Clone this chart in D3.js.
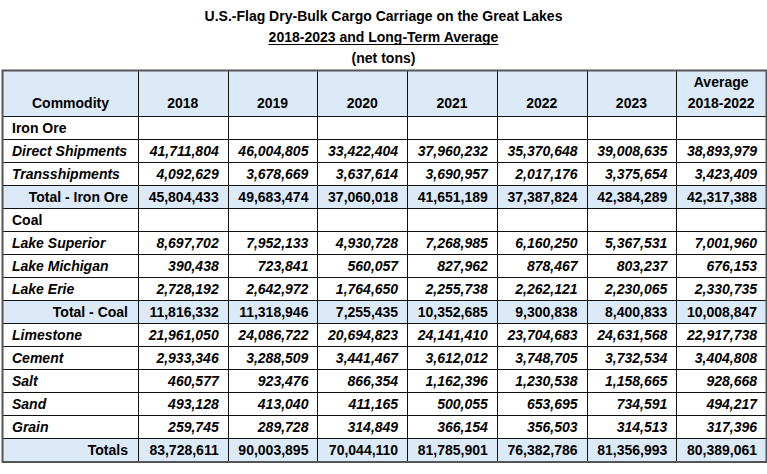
<!DOCTYPE html>
<html>
<head>
<meta charset="utf-8">
<title>U.S.-Flag Dry-Bulk Cargo Carriage on the Great Lakes</title>
<script src="https://cdn.jsdelivr.net/npm/d3@7"></script>
<style>
  body { margin: 0; background: #fff; }
  text { font-family: "Liberation Sans", Arial, sans-serif; fill: #000; }
</style>
</head>
<body>
<svg id="mainsvg" width="767" height="474"></svg>
<script>
// table data
const titleLines = ['U.S.-Flag Dry-Bulk Cargo Carriage on the Great Lakes', '2018-2023 and Long-Term Average', '(net tons)']
const columns = ['2018', '2019', '2020', '2021', '2022', '2023', 'Average 2018-2022']
const commodities = ['Iron Ore', 'Direct Shipments', 'Transshipments', 'Total - Iron Ore',
  'Coal', 'Lake Superior', 'Lake Michigan', 'Lake Erie', 'Total - Coal',
  'Limestone', 'Cement', 'Salt', 'Sand', 'Grain', 'Totals']
// group = section label, item = italic line, total = shaded row
const rowKinds = ['group', 'item', 'item', 'total', 'group', 'item', 'item', 'item', 'total',
  'item', 'item', 'item', 'item', 'item', 'total']

const v2018 = [null, 41711804, 4092629, 45804433, null, 8697702, 390438, 2728192, 11816332, 21961050, 2933346, 460577, 493128, 259745, 83728611]
const v2019 = [null, 46004805, 3678669, 49683474, null, 7952133, 723841, 2642972, 11318946, 24086722, 3288509, 923476, 413040, 289728, 90003895]
const v2020 = [null, 33422404, 3637614, 37060018, null, 4930728, 560057, 1764650, 7255435, 20694823, 3441467, 866354, 411165, 314849, 70044110]
const v2021 = [null, 37960232, 3690957, 41651189, null, 7268985, 827962, 2255738, 10352685, 24141410, 3612012, 1162396, 500055, 366154, 81785901]
const v2022 = [null, 35370648, 2017176, 37387824, null, 6160250, 878467, 2262121, 9300838, 23704683, 3748705, 1230538, 653695, 356503, 76382786]
const v2023 = [null, 39008635, 3375654, 42384289, null, 5367531, 803237, 2230065, 8400833, 24631568, 3732534, 1158665, 734591, 314513, 81356993]
const vAvg = [null, 38893979, 3423409, 42317388, null, 7001960, 676153, 2330735, 10008847, 22917738, 3404808, 928668, 494217, 317396, 80389061]
const seriesValues = [v2018, v2019, v2020, v2021, v2022, v2023, vAvg]

const svg = d3.select('#mainsvg')
const width = +svg.attr('width')

const tableLeft = 3, tableRight = 766
const labelRight = 138
const headTop = 70, headBottom = 116, tableBottom = 461
const fill = '#dce9f6'
const fmt = d3.format(',')

const x = d3.scaleBand().domain(columns).range([labelRight, tableRight])
const y = d3.scaleBand().domain(d3.range(commodities.length)).range([headBottom, tableBottom])

// titles
const titles = svg.append('g')
titles.selectAll('text').data(titleLines).join('text')
  .attr('x', width / 2)
  .attr('y', (d, i) => 21 + i * 21)
  .attr('text-anchor', 'middle')
  .attr('font-size', 14)
  .attr('font-weight', 'bold')
  .text(d => d)
const sub = titles.selectAll('text').filter((d, i) => i === 1)
const subLen = sub.node().getComputedTextLength()
titles.append('line')
  .attr('x1', width / 2 - subLen / 2).attr('x2', width / 2 + subLen / 2)
  .attr('y1', 44.5).attr('y2', 44.5)
  .attr('stroke', '#000').attr('stroke-width', 1)

// shaded backgrounds: header and total rows
const g = svg.append('g')
g.append('rect')
  .attr('x', tableLeft).attr('y', headTop)
  .attr('width', tableRight - tableLeft).attr('height', headBottom - headTop)
  .attr('fill', fill)
g.selectAll('rect.total').data(d3.range(commodities.length).filter(i => rowKinds[i] === 'total')).join('rect')
  .attr('class', 'total')
  .attr('x', tableLeft).attr('y', i => y(i))
  .attr('width', tableRight - tableLeft).attr('height', y.bandwidth())
  .attr('fill', fill)

// header text
g.append('text')
  .attr('x', (tableLeft + labelRight) / 2).attr('y', 108)
  .attr('text-anchor', 'middle').attr('font-size', 14).attr('font-weight', 'bold')
  .text('Commodity')
const head = g.selectAll('text.head').data(columns).join('text')
  .attr('class', 'head')
  .attr('x', d => x(d) + x.bandwidth() / 2)
  .attr('text-anchor', 'middle').attr('font-size', 14).attr('font-weight', 'bold')
head.selectAll('tspan').data(d => {
    const parts = d.split(' ')
    return parts.map((p, i) => ({ p, line: i - parts.length + 1 }))
  }).join('tspan')
  .attr('x', function () { return d3.select(this.parentNode).attr('x') })
  .attr('y', d => 108 + d.line * 21)
  .text(d => d.p)

// row labels
g.selectAll('text.label').data(commodities).join('text')
  .attr('class', 'label')
  .attr('x', (d, i) => rowKinds[i] === 'total' ? labelRight - 10 : tableLeft + 9)
  .attr('y', (d, i) => y(i) + y.bandwidth() / 2 + 5)
  .attr('text-anchor', (d, i) => rowKinds[i] === 'total' ? 'end' : 'start')
  .attr('font-size', 14)
  .attr('font-weight', 'bold')
  .attr('font-style', (d, i) => rowKinds[i] === 'item' ? 'italic' : 'normal')
  .text(d => d)

// values
const cells = []
seriesValues.forEach((vals, c) => vals.forEach((v, r) => {
  if (v !== null) cells.push({ col: columns[c], row: r, v })
}))
g.selectAll('text.val').data(cells).join('text')
  .attr('class', 'val')
  .attr('x', d => x(d.col) + x.bandwidth() - 9)
  .attr('y', d => y(d.row) + y.bandwidth() / 2 + 5)
  .attr('text-anchor', 'end')
  .attr('font-size', 14)
  .attr('font-weight', 'bold')
  .attr('font-style', d => rowKinds[d.row] === 'item' ? 'italic' : 'normal')
  .text(d => fmt(d.v))

// grid lines
const lines = svg.append('g').attr('stroke', '#111').attr('stroke-width', 1)
const hLines = [headTop, headBottom].concat(d3.range(commodities.length).map(i => y(i) + y.bandwidth()))
lines.selectAll('line.h').data(hLines).join('line')
  .attr('class', 'h')
  .attr('x1', tableLeft).attr('x2', tableRight)
  .attr('y1', d => Math.round(d) + 0.5).attr('y2', d => Math.round(d) + 0.5)
const vLines = [labelRight].concat(columns.slice(1).map(c => x(c)))
lines.selectAll('line.v').data(vLines).join('line')
  .attr('class', 'v')
  .attr('x1', d => Math.round(d) + 0.5).attr('x2', d => Math.round(d) + 0.5)
  .attr('y1', headTop).attr('y2', tableBottom)

// outer frame
svg.append('rect')
  .attr('x', tableLeft - 0.5).attr('y', headTop + 0.5)
  .attr('width', tableRight - tableLeft + 1).attr('height', tableBottom - headTop + 0.5)
  .attr('fill', 'none').attr('stroke', '#555').attr('stroke-width', 2)
</script>
</body>
</html>
